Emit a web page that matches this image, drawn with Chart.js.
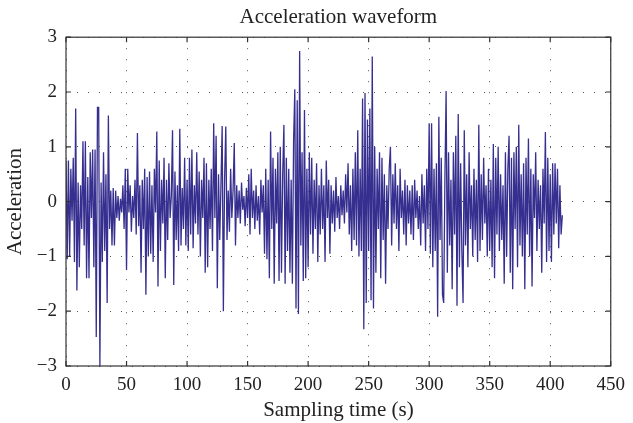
<!DOCTYPE html>
<html>
<head>
<meta charset="utf-8">
<script src="https://cdn.jsdelivr.net/npm/chart.js@4"></script>
<style>
  html, body { margin: 0; padding: 0; background: #fff; }
  #wrap { width: 633px; height: 423px; }
</style>
</head>
<body>
<div id="wrap"><canvas id="wave"></canvas></div>
<script>
// acceleration samples, one per second
const accel = [
  0.75, -1.05, 0.75, -1.0, 0.6, -0.35, 0.8, -1.1, 1.7, -1.62,
  0.35, -1.2, 0.3, -0.5, 1.1, -0.8, 1.1, -1.4, 0.45, -1.4,
  0.9, -0.3, 0.95, -1.2, 0.95, -2.47, 1.72, 1.72, -3.0, 0.35,
  -1.1, 0.9, -0.9, 0.5, -1.85, 1.57, -0.5, 0.2, -0.8, 0.25,
  -0.8, 0.2, -0.3, 0.1, -0.35, 0.05, -0.2, 0.3, -0.5, 0.6,
  -1.25, 0.6, -0.2, 0.3, -0.55, 0.1, -0.3, 0.4, -0.6, 1.25,
  -0.45, 0.3, -1.3, 0.4, -0.5, 0.6, -1.7, 0.45, -1.0, 0.55,
  -0.95, 0.3, -1.1, 0.6, -0.2, 1.28, -1.55, 0.75, -0.9, 0.4,
  -0.4, 0.8, -1.4, 0.4, -0.7, 0.7, -0.3, 0.1, 1.3, -1.52,
  0.55, -0.7, 0.3, -0.9, 1.33, -0.8, 0.25, -0.5, 0.8, -0.8,
  0.4, -0.9, 0.8, -0.6, 0.95, -0.85, 0.3, -0.4, 0.9, -0.6,
  0.55, -1.0, 0.4, -0.3, 0.8, -1.3, 0.7, -1.2, 0.4, -0.5,
  0.6, -0.9, 1.43, -0.3, 1.2, -1.58, 0.5, -0.7, 0.3, 1.38,
  -2.0, 0.4, 1.37, -0.7, 0.2, -0.55, 0.6, -0.3, 0.2, 1.07,
  -0.8, 0.3, -0.3, 0.2, -0.4, 0.35, -0.15, 0.1, -0.45, 0.25,
  -0.3, 0.5, -0.6, 0.6, -0.3, 0.2, -0.5, 0.3, -0.35, 0.1,
  -0.6, 0.4, -0.2, 0.3, -0.95, 0.6, -1.05, 0.4, -1.4, 1.28,
  -0.5, 0.8, -1.5, 0.6, -0.4, 0.9, -1.45, 1.0, -1.3, 0.5,
  1.4, -1.5, 0.8, -0.9, 0.6, -1.3, 0.4, -1.5, 1.1, 2.05,
  -1.95, 1.85, -2.05, 2.75, -0.8, 0.9, -1.45, 1.67, -1.4, 0.6,
  -1.2, 0.9, -0.6, 0.8, -0.95, 0.4, -0.5, 0.7, -1.1, 0.3,
  -0.6, 0.6, -0.5, 0.3, -1.1, 0.75, -0.3, 0.4, -0.95, 0.3,
  -0.4, 0.2, -0.55, 0.45, -0.3, 0.1, -0.5, 0.3, -0.25, 0.2,
  -0.4, 0.5, -0.2, 0.7, -0.6, 0.3, -0.9, 0.6, -0.7, 0.9,
  -0.8, 1.3, -1.0, 0.6, -0.9, 1.88, -2.33, 1.98, -1.85, 1.5,
  -0.9, 1.7, -1.8, 2.65, -1.95, 1.0, -1.3, 0.6, -0.5, 0.9,
  -1.4, 0.8, -0.7, 0.5, -1.5, 0.3, -0.5, 0.6, 1.0, -0.8,
  0.5, -0.4, 0.7, -0.5, 0.3, -0.9, 0.6, -0.3, 0.2, -0.6,
  0.4, -0.8, 0.3, -0.4, 0.2, -0.6, 0.3, -0.7, 0.4, -0.3,
  0.2, -0.5, 0.1, -0.8, 0.5, -0.4, 0.3, -0.9, 0.6, -0.5,
  1.43, -0.95, 1.43, -1.2, 0.6, -0.9, 0.7, -2.1, 1.55, -0.7,
  0.8, -1.7, -1.85, 0.4, 2.02, -1.3, 0.9, -0.8, 0.4, -1.6,
  0.9, -0.6, 1.2, -1.9, 1.6, -1.2, 0.7, -0.9, -1.85, 1.3,
  -0.8, 0.5, -1.2, 0.9, -0.5, 0.3, -1.0, 0.6, -0.7, 0.4,
  -1.1, 1.4, -0.9, 0.5, -0.7, 0.8, -0.4, 0.3, -1.0, 0.6,
  -0.9, 0.4, -1.2, 1.05, -1.4, 0.8, -0.6, 1.0, -0.9, 0.5,
  -0.7, 0.3, -1.5, 0.9, -1.0, 0.6, 1.2, -1.3, 0.8, -1.6,
  0.9, -0.5, 1.0, -1.2, 1.4, -0.8, 0.5, -1.0, 0.7, -1.6,
  0.8, -0.6, 1.15, -1.0, 0.6, -1.55, 0.5, -0.3, 0.9, -0.9,
  0.4, -0.5, 0.3, -1.3, 0.6, -0.4, 1.27, -1.1, 0.8, -0.9,
  0.5, -1.1, 0.7, -0.6, 0.7, -0.4, 0.6, -0.85, 0.3, -0.6,
  -0.25
];

const xTicks = [0, 50, 100, 150, 200, 250, 300, 350, 400, 450];
const yTicks = [-3, -2, -1, 0, 1, 2, 3];

const serif = "'Liberation Serif', 'DejaVu Serif', serif";
const lineColor = "#362f8f";
const gridColor = "#555";

// matlab-ish box with inward ticks
const boxPlugin = {
  id: "box",
  afterDraw(chart) {
    const { ctx, chartArea: a, scales } = chart;
    ctx.save();
    ctx.strokeStyle = "#333";
    ctx.lineWidth = 1.2;
    ctx.strokeRect(a.left, a.top, a.right - a.left, a.bottom - a.top);
    const len = 5;
    ctx.beginPath();
    xTicks.forEach((v) => {
      const px = scales.x.getPixelForValue(v);
      ctx.moveTo(px, a.bottom);
      ctx.lineTo(px, a.bottom - len);
      ctx.moveTo(px, a.top);
      ctx.lineTo(px, a.top + len);
    });
    yTicks.forEach((v) => {
      const py = scales.y.getPixelForValue(v);
      ctx.moveTo(a.left, py);
      ctx.lineTo(a.left + len, py);
      ctx.moveTo(a.right, py);
      ctx.lineTo(a.right - len, py);
    });
    ctx.stroke();
    ctx.restore();
  },
};

const fmt = (v) => (v < 0 ? "\u2212" + Math.abs(v) : String(v));

new Chart(document.getElementById("wave"), {
  type: "line",
  data: {
    datasets: [
      {
        label: "Acceleration",
        data: accel.map((y, i) => ({ x: i, y: y })),
        borderColor: lineColor,
        borderWidth: 1.3,
        pointRadius: 0,
        tension: 0,
        fill: false,
      },
    ],
  },
  options: {
    responsive: true,
    maintainAspectRatio: false,
    animation: false,
    layout: { padding: { left: 0, right: 15, top: 0, bottom: 0 } },
    plugins: {
      legend: { display: false },
      tooltip: { enabled: false },
      title: {
        display: true,
        fullSize: false, // centre over the plot box, not the canvas
        text: "Acceleration waveform",
        color: "#222",
        font: { family: serif, size: 21, weight: "normal" },
        padding: { top: 5, bottom: 7 },
      },
    },
    scales: {
      x: {
        type: "linear",
        min: 0,
        max: 450,
        afterFit: (s) => { s.height = 57; },
        afterBuildTicks: (s) => { s.ticks = xTicks.map((v) => ({ value: v })); },
        ticks: {
          padding: 8,
          color: "#222",
          font: { family: serif, size: 19 },
          maxRotation: 0,
          callback: fmt,
        },
        grid: { color: gridColor, drawTicks: false, lineWidth: 1 },
        border: { display: false, dash: [1, 10] },
        title: {
          display: true,
          text: "Sampling time (s)",
          color: "#222",
          font: { family: serif, size: 21 },
          padding: { top: 0, bottom: 0 },
        },
      },
      y: {
        min: -3,
        max: 3,
        afterFit: (s) => { s.width = 66; },
        afterBuildTicks: (s) => { s.ticks = yTicks.map((v) => ({ value: v })); },
        ticks: {
          padding: 9,
          color: "#222",
          font: { family: serif, size: 19 },
          callback: fmt,
        },
        grid: { color: gridColor, drawTicks: false, lineWidth: 1 },
        border: { display: false, dash: [1, 10] },
        title: {
          display: true,
          text: "Acceleration",
          color: "#222",
          font: { family: serif, size: 21 },
          padding: { top: 3, bottom: 0 },
        },
      },
    },
  },
  plugins: [boxPlugin],
});
</script>
</body>
</html>
